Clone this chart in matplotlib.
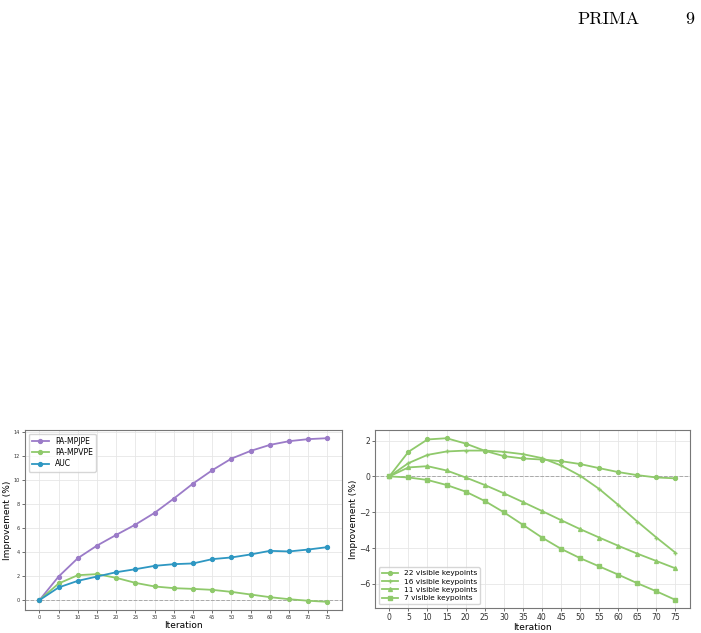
import matplotlib
matplotlib.use("Agg")
import matplotlib.pyplot as plt

iterations = [0, 5, 10, 15, 20, 25, 30, 35, 40, 45, 50, 55, 60, 65, 70, 75]

# left panel: improvement per metric
pa_mpjpe = [0, 1.97, 3.5, 4.55, 5.44, 6.3, 7.28, 8.47, 9.72, 10.83, 11.8, 12.44, 12.94, 13.25, 13.42, 13.5]
pa_mpvpe = [0, 1.39, 2.08, 2.17, 1.86, 1.44, 1.14, 1.0, 0.94, 0.86, 0.69, 0.47, 0.25, 0.08, -0.05, -0.14]
auc = [0, 1.06, 1.61, 1.97, 2.33, 2.58, 2.86, 3.0, 3.06, 3.42, 3.56, 3.81, 4.11, 4.06, 4.22, 4.42]

# right panel: improvement per number of visible keypoints
kp22 = [0, 1.37, 2.06, 2.13, 1.83, 1.43, 1.13, 1.0, 0.94, 0.85, 0.69, 0.46, 0.24, 0.07, -0.06, -0.11]
kp16 = [0, 0.74, 1.2, 1.39, 1.44, 1.44, 1.37, 1.24, 1.02, 0.61, 0.04, -0.7, -1.59, -2.52, -3.41, -4.26]
kp11 = [0, 0.5, 0.57, 0.33, -0.06, -0.48, -0.94, -1.43, -1.93, -2.44, -2.94, -3.41, -3.87, -4.31, -4.72, -5.13]
kp7 = [0, -0.06, -0.2, -0.48, -0.85, -1.37, -2.0, -2.7, -3.41, -4.04, -4.56, -5.02, -5.48, -5.96, -6.41, -6.89]

purple = "#9b7bc8"
green = "#8fc96b"
blue = "#2e97c2"


def style_axes(ax, tick_size, label_size):
    ax.grid(True, color="#e6e6e6", linewidth=0.6)
    ax.set_axisbelow(True)
    ax.axhline(0, color="#aaaaaa", linestyle="--", linewidth=0.7, zorder=1)
    ax.set_xticks(iterations)
    ax.tick_params(labelsize=tick_size, length=2, width=0.5, pad=1.5, colors="#333333")
    for s in ax.spines.values():
        s.set_color("#777777")
        s.set_linewidth(0.8)
    ax.set_xlabel("Iteration", fontsize=label_size, labelpad=0.5)
    ax.set_ylabel("Improvement (%)", fontsize=label_size, labelpad=1)


fig = plt.figure(figsize=(7.01, 6.33), dpi=100)

fig.text(0.868, 0.982, "PRIMA", family="cmr10", fontsize=13, ha="center", va="top")
fig.text(0.984, 0.982, "9", family="cmr10", fontsize=13, ha="center", va="top")

ax1 = fig.add_axes([0.0357, 0.0363, 0.452, 0.2844])
ax1.plot(iterations, pa_mpjpe, color=purple, marker="o", markersize=2.8, linewidth=1.3, label="PA-MPJPE")
ax1.plot(iterations, pa_mpvpe, color=green, marker="o", markersize=2.8, linewidth=1.3, label="PA-MPVPE")
ax1.plot(iterations, auc, color=blue, marker="o", markersize=2.8, linewidth=1.3, label="AUC")
style_axes(ax1, 3.6, 6.5)
ax1.legend(loc="upper left", fontsize=5.5, handlelength=2.2, borderpad=0.4, labelspacing=0.3,
           edgecolor="#cccccc", fancybox=True)

ax2 = fig.add_axes([0.535, 0.0395, 0.449, 0.281])
ax2.plot(iterations, kp22, color=green, marker="o", markersize=2.8, linewidth=1.3, label="22 visible keypoints")
ax2.plot(iterations, kp16, color=green, marker="+", markersize=3.5, linewidth=1.3, label="16 visible keypoints")
ax2.plot(iterations, kp11, color=green, marker="^", markersize=2.8, linewidth=1.3, label="11 visible keypoints")
ax2.plot(iterations, kp7, color=green, marker="s", markersize=2.8, linewidth=1.3, label="7 visible keypoints")
style_axes(ax2, 5.5, 6.5)
ax2.legend(loc="lower left", fontsize=5.3, handlelength=2.2, borderpad=0.4, labelspacing=0.3,
           edgecolor="#cccccc", fancybox=True)

fig.savefig("out.png", dpi=100)
